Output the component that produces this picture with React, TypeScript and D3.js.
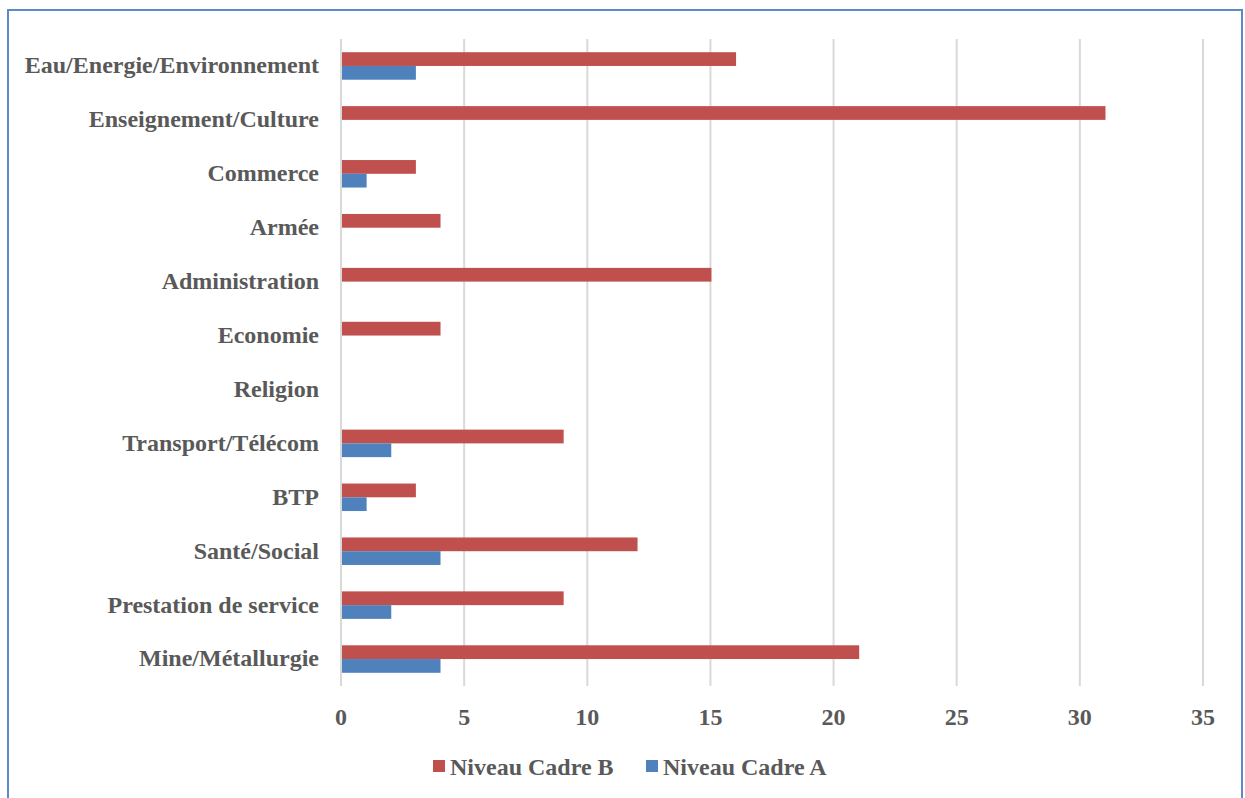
import React from "react";
import * as d3 from "d3";

const categories = [
  "Eau/Energie/Environnement",
  "Enseignement/Culture",
  "Commerce",
  "Armée",
  "Administration",
  "Economie",
  "Religion",
  "Transport/Télécom",
  "BTP",
  "Santé/Social",
  "Prestation de service",
  "Mine/Métallurgie",
];
const cadreB = [16, 31, 3, 4, 15, 4, 0, 9, 3, 12, 9, 21];
const cadreA = [3, 0, 1, 0, 0, 0, 0, 2, 1, 4, 2, 4];
const xTicks = [0, 5, 10, 15, 20, 25, 30, 35];
const seriesNames = ["Niveau Cadre B", "Niveau Cadre A"];
const seriesColors = ["#C0504D", "#4F81BD"];

const W = 1245;
const H = 798;
const plot = { left: 341, right: 1203, top: 39, bottom: 686 };
const font = "'Liberation Serif', 'Times New Roman', serif";
const textColor = "#595959";

export default function App() {
  const x = d3.scaleLinear().domain([0, 35]).range([plot.left, plot.right]);
  const y = d3
    .scaleBand<string>()
    .domain(categories)
    .range([plot.top, plot.bottom])
    .paddingInner(0)
    .paddingOuter(0);
  const band = y.bandwidth();
  const barH = band * 0.255;
  const series = [cadreB, cadreA];

  return (
    <svg
      width={W}
      height={H}
      style={{ position: "absolute", left: 0, top: 0, display: "block" }}
    >
      <rect x={0} y={0} width={W} height={H} fill="#fff" />
      <rect
        x={8}
        y={10}
        width={1234}
        height={H + 20}
        fill="none"
        stroke="#5B8AC6"
        strokeWidth={2}
      />
      {xTicks.map((t) => (
        <line
          key={t}
          x1={x(t)}
          x2={x(t)}
          y1={plot.top}
          y2={plot.bottom}
          stroke="#D9D9D9"
          strokeWidth={2}
        />
      ))}
      {categories.map((c, i) => {
        const cy = (y(c) as number) + band / 2;
        return (
          <g key={c}>
            {series.map((s, k) =>
              s[i] > 0 ? (
                <rect
                  key={k}
                  x={x(0) + 1}
                  y={cy - barH + k * barH}
                  width={x(s[i]) - x(0)}
                  height={barH}
                  fill={seriesColors[k]}
                />
              ) : null
            )}
            <text
              x={plot.left - 22}
              y={cy - 1}
              dy="0.35em"
              textAnchor="end"
              fontFamily={font}
              fontWeight="bold"
              fontSize={24}
              fill={textColor}
            >
              {c}
            </text>
          </g>
        );
      })}
      {xTicks.map((t) => (
        <text
          key={t}
          x={x(t)}
          y={717}
          dy="0.35em"
          textAnchor="middle"
          fontFamily={font}
          fontWeight="bold"
          fontSize={24}
          fill={textColor}
        >
          {t}
        </text>
      ))}
      {seriesNames.map((n, k) => {
        const lx = k === 0 ? 433 : 646;
        return (
          <g key={n}>
            <rect x={lx} y={760} width={12} height={12} fill={seriesColors[k]} />
            <text
              x={lx + 17}
              y={767}
              dy="0.35em"
              fontFamily={font}
              fontWeight="bold"
              fontSize={24}
              fill={textColor}
            >
              {n}
            </text>
          </g>
        );
      })}
    </svg>
  );
}
